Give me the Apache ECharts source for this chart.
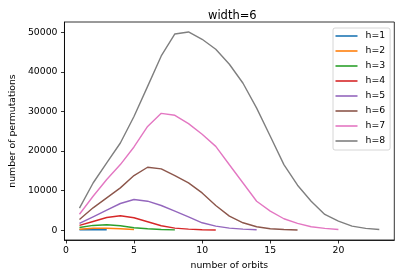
<!DOCTYPE html>
<html>
<head>
<meta charset="utf-8">
<script src="https://cdn.jsdelivr.net/npm/echarts@6/dist/echarts.min.js"></script>
<style>html,body{margin:0;padding:0;background:#fff;}#c{width:401px;height:278px;}</style>
</head>
<body>
<div id="c"></div>
<script>
var title = 'width=6';
var seriesNames = ['h=1','h=2','h=3','h=4','h=5','h=6','h=7','h=8'];
var h1 = [90, 160, 90];
var h2 = [200, 450, 480, 330, 140];
var h3 = [670, 1180, 1340, 1090, 590, 340, 150, 50];
var h4 = [1180, 2180, 3190, 3610, 3110, 2100, 1090, 500, 250, 100, 30];
var h5 = [1680, 3360, 5040, 6720, 7730, 7300, 6220, 4790, 3360, 1850, 1000, 500, 250, 80];
var h6 = [2690, 5630, 8150, 10670, 13780, 15880, 15460, 13780, 11930, 9400, 6220, 3530, 1850, 840, 340, 150, 30];
var h7 = [4000, 8560, 12770, 16550, 21000, 26200, 29500, 29000, 26900, 24200, 21150, 16500, 11900, 7300, 4800, 2870, 1700, 850, 430, 150];
var h8 = [5540, 11900, 16970, 22000, 28700, 36300, 44000, 49550, 50050, 48200, 45700, 41900, 37100, 30800, 23700, 16550, 11350, 7300, 3950, 2270, 1000, 430, 150];
var xTicks = [0, 5, 10, 15, 20];
var yTicks = [0, 10000, 20000, 30000, 40000, 50000];
var colors = ['#1f77b4','#ff7f0e','#2ca02c','#d62728','#9467bd','#8c564b','#e377c2','#7f7f7f'];
var allValues = [h1,h2,h3,h4,h5,h6,h7,h8];

var font = 'DejaVu Sans';
var chart = echarts.init(document.getElementById('c'), null, {renderer:'canvas'});
var series = allValues.map(function(vals, i){
  return {
    name: seriesNames[i], type: 'line', showSymbol: false, symbol: 'none',
    lineStyle: {width: 1.4, color: colors[i]}, itemStyle: {color: colors[i], opacity: 0.8},
    data: vals.map(function(v, j){ return [j + 1, v]; })
  };
});
chart.setOption({
  animation: false,
  title: {text: title, left: 227.3, textAlign: 'center', top: 5,
    textStyle: {fontFamily: font, fontSize: 11.5, fontWeight: 'normal', color: '#000'}},
  grid: {left: 60.3, right: 6.7, top: 22, bottom: 38, show: true, borderColor: '#000', borderWidth: 0.8, containLabel: false},
  legend: {
    orient: 'vertical', left: 333, top: 28, data: seriesNames,
    icon: 'rect', itemWidth: 22, itemHeight: 2, itemGap: 3,
    padding: [2, 5, 3, 2.5],
    borderColor: '#cccccc', borderWidth: 0.8, borderRadius: 2, backgroundColor: 'rgba(255,255,255,0.8)',
    textStyle: {fontFamily: font, fontSize: 9.3, color: '#000', lineHeight: 12, padding: [0,0,0,3]}
  },
  xAxis: {
    type: 'value', min: -0.1, max: 24.1,
    name: 'number of orbits', nameLocation: 'middle', nameGap: 21,
    nameTextStyle: {fontFamily: font, fontSize: 9.3, color: '#000'},
    axisLine: {show: true, onZero: false, lineStyle: {color: '#000', width: 0.8}},
    axisTick: {show: true, length: 3.5, lineStyle: {color: '#000', width: 0.8}, customValues: xTicks},
    axisLabel: {fontFamily: font, fontSize: 9.3, color: '#000', margin: 6, customValues: xTicks},
    splitLine: {show: false}
  },
  yAxis: {
    type: 'value', min: -2500, max: 52570,
    name: 'number of permutations', nameLocation: 'middle', nameGap: 45,
    nameTextStyle: {fontFamily: font, fontSize: 9.3, color: '#000'},
    axisLine: {show: true, onZero: false, lineStyle: {color: '#000', width: 0.8}},
    axisTick: {show: true, length: 3.5, lineStyle: {color: '#000', width: 0.8}, customValues: yTicks},
    axisLabel: {fontFamily: font, fontSize: 9.3, color: '#000', margin: 7, customValues: yTicks,
      formatter: function(v){ return String(v); }},
    splitLine: {show: false}
  },
  series: series
});
</script>
</body>
</html>
